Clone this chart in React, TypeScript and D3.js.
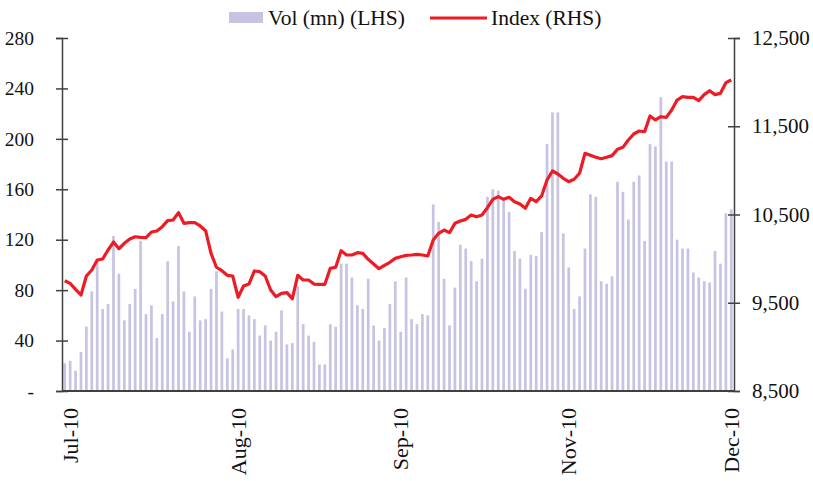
import { useRef, useEffect } from "react";
import * as d3 from "d3";

// daily volume (mn), left axis
const vol = [
  22, 24, 16, 31, 51, 79, 103, 65, 69, 123, 93, 56, 69, 81, 119, 61, 68, 42, 61, 103, 71,
  115, 79, 47, 75, 56, 57, 81, 95, 63, 26, 33, 65, 65, 60, 57, 44, 52, 40, 47, 64,
  37, 38, 83, 53, 44, 39, 21, 21, 53, 51, 101, 101, 90, 68, 65, 89, 52, 40, 50, 69, 87,
  47, 90, 57, 53, 61, 60, 148, 134, 89, 52, 82, 116, 113, 103, 87, 105, 154, 160, 159, 151, 142,
  111, 105, 81, 108, 107, 126, 196, 221, 221, 125, 98, 65, 75, 113, 156, 154, 87, 85, 91, 166,
  158, 136, 166, 171, 119, 196, 194, 233, 182, 182, 120, 113, 113, 94, 90, 87, 86, 111, 101, 141, 144,
];

// index level, right axis
const index = [
  9750, 9720, 9652, 9588, 9803, 9871, 9984, 9996, 10098, 10188, 10112, 10173, 10222, 10248, 10241, 10237, 10302, 10313, 10362, 10430, 10438,
  10521, 10400, 10407, 10407, 10370, 10316, 10060, 9902, 9863, 9811, 9803, 9562, 9690, 9712, 9860, 9852, 9803, 9644, 9569, 9607,
  9614, 9546, 9811, 9758, 9758, 9712, 9709, 9709, 9890, 9902, 10090, 10041, 10041, 10067, 10060, 9992, 9939, 9886, 9924, 9958, 10003,
  10022, 10037, 10041, 10049, 10041, 10030, 10211, 10287, 10324, 10294, 10400, 10426, 10445, 10494, 10475, 10494, 10577, 10672, 10702, 10672, 10695,
  10645, 10619, 10570, 10683, 10645, 10710, 10891, 10993, 10959, 10910, 10872, 10899, 10967, 11193, 11171, 11148, 11132, 11148, 11167, 11239,
  11261, 11344, 11412, 11446, 11438, 11616, 11571, 11608, 11601, 11684, 11797, 11835, 11828, 11828, 11790, 11858, 11903, 11858, 11873, 11994, 12024,
];

const xLabels = ["Jul-10", "Aug-10", "Sep-10", "Nov-10", "Dec-10"];
const xLabelAt = [1, 32, 62, 93, 123];
const leftTicks = [0, 40, 80, 120, 160, 200, 240, 280];
const rightTicks = [8500, 9500, 10500, 11500, 12500];

export default function App() {
  const ref = useRef<SVGSVGElement>(null);

  function init() {
    const settings = {
      width: 813,
      height: 481,
      left: 62,
      right: 734,
      top: 38,
      bottom: 391,
    };
    const font = "'Liberation Serif', 'Times New Roman', serif";
    const axisColor = "#404040";

    const svg = d3.select(ref.current);
    svg.selectAll("*").remove();
    svg.attr("font-family", font).attr("font-size", 20);

    const x = d3
      .scaleBand<number>()
      .domain(d3.range(vol.length))
      .range([settings.left, settings.right])
      .paddingInner(0.5)
      .paddingOuter(0.25);
    const yL = d3.scaleLinear().domain([0, 280]).range([settings.bottom, settings.top]);
    const yR = d3.scaleLinear().domain([8500, 12500]).range([settings.bottom, settings.top]);

    // bars
    svg
      .append("g")
      .selectAll("rect")
      .data(vol)
      .join("rect")
      .attr("x", (_, i) => x(i)!)
      .attr("width", x.bandwidth())
      .attr("y", (d) => yL(d))
      .attr("height", (d) => yL(0) - yL(d))
      .attr("fill", "#c6c4e2");

    // line
    const line = d3
      .line<number>()
      .x((_, i) => x(i)! + x.bandwidth() / 2)
      .y((d) => yR(d));
    svg
      .append("path")
      .datum(index)
      .attr("d", line)
      .attr("fill", "none")
      .attr("stroke", "#ed1c24")
      .attr("stroke-width", 3.2)
      .attr("stroke-linejoin", "round");

    // left axis
    const yAxisL = (g) =>
      g
        .attr("transform", `translate(${settings.left},0)`)
        .call(
          d3
            .axisLeft(yL)
            .tickValues(leftTicks)
            .tickSize(6)
            .tickPadding(22)
            .tickFormat((d) => (d === 0 ? "-" : String(d)))
        )
        .call((g) => g.selectAll(".tick line").attr("x2", 6).attr("x1", -6))
        .call((g) => g.selectAll("path, line").attr("stroke", axisColor).attr("stroke-width", 1.5))
        .call((g) =>
          g.selectAll("text").attr("font-family", font).attr("font-size", 19.5).attr("fill", "#111")
        );
    svg.append("g").call(yAxisL);

    // right axis
    const yAxisR = (g) =>
      g
        .attr("transform", `translate(${settings.right},0)`)
        .call(
          d3
            .axisRight(yR)
            .tickValues(rightTicks)
            .tickSize(6)
            .tickPadding(12)
            .tickFormat(d3.format(","))
        )
        .call((g) => g.selectAll(".tick line").attr("x1", -6).attr("x2", 6))
        .call((g) => g.selectAll("path, line").attr("stroke", axisColor).attr("stroke-width", 1.5))
        .call((g) =>
          g.selectAll("text").attr("font-family", font).attr("font-size", 21).attr("fill", "#111")
        );
    svg.append("g").call(yAxisR);

    // baseline
    svg
      .append("line")
      .attr("x1", settings.left)
      .attr("x2", settings.right)
      .attr("y1", settings.bottom)
      .attr("y2", settings.bottom)
      .attr("stroke", axisColor)
      .attr("stroke-width", 2);

    // x labels
    svg
      .append("g")
      .selectAll("text")
      .data(xLabels)
      .join("text")
      .attr("transform", (_, i) => {
        const cx = x(xLabelAt[i])! + x.bandwidth() / 2;
        return `translate(${cx},${settings.bottom + 17}) rotate(-90)`;
      })
      .attr("text-anchor", "end")
      .attr("dy", "0.35em")
      .attr("font-size", 22)
      .attr("fill", "#111")
      .text((d) => d);

    // legend
    const legend = svg.append("g").attr("font-size", 21.5);
    legend
      .append("rect")
      .attr("x", 229)
      .attr("y", 12)
      .attr("width", 34)
      .attr("height", 11)
      .attr("fill", "#c6c4e2");
    legend
      .append("text")
      .attr("x", 268)
      .attr("y", 25)
      .attr("fill", "#111")
      .text("Vol (mn) (LHS)");
    legend
      .append("line")
      .attr("x1", 430)
      .attr("x2", 487)
      .attr("y1", 18)
      .attr("y2", 18)
      .attr("stroke", "#ed1c24")
      .attr("stroke-width", 3.2);
    legend
      .append("text")
      .attr("x", 491)
      .attr("y", 25)
      .attr("fill", "#111")
      .text("Index (RHS)");
  }

  useEffect(init, []);
  return (
    <svg
      ref={ref}
      width={813}
      height={481}
      style={{ position: "absolute", left: 0, top: 0, background: "#fff" }}
    ></svg>
  );
}
